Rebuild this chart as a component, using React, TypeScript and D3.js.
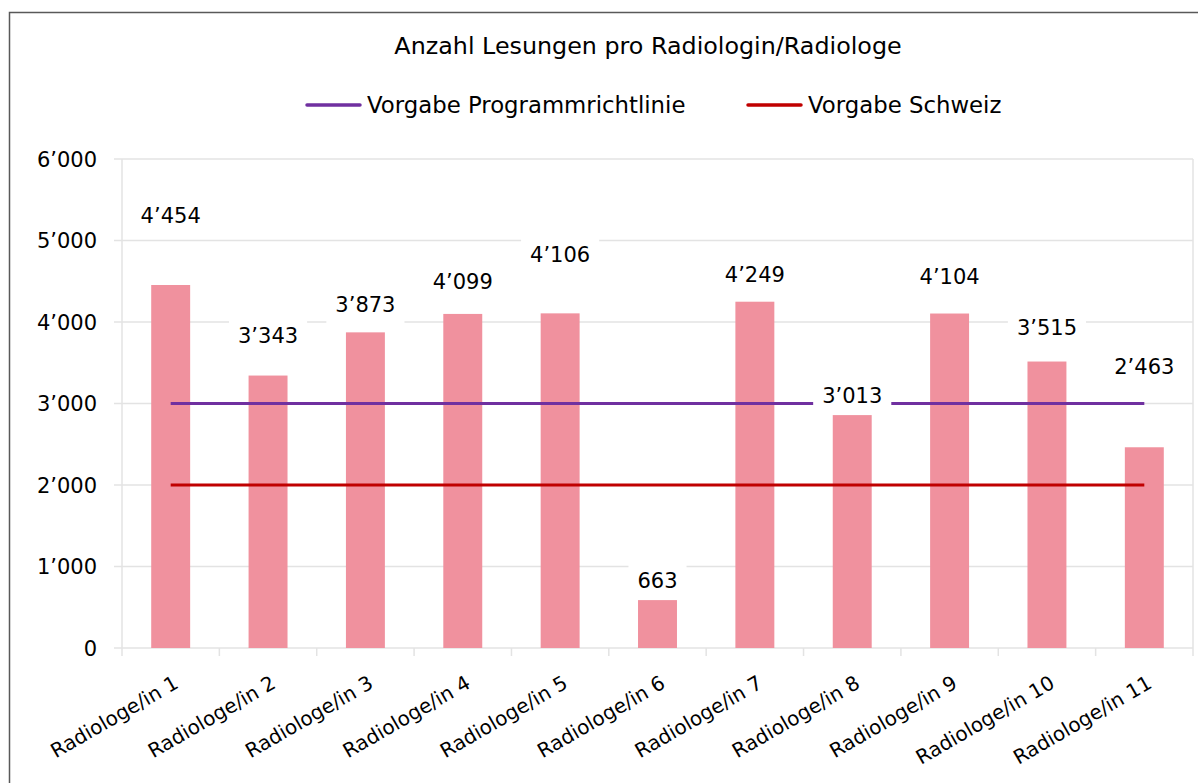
import * as d3 from "d3";
import { useEffect, useRef } from "react";

// Daten
const categories = [
  "Radiologe/in 1", "Radiologe/in 2", "Radiologe/in 3", "Radiologe/in 4",
  "Radiologe/in 5", "Radiologe/in 6", "Radiologe/in 7", "Radiologe/in 8",
  "Radiologe/in 9", "Radiologe/in 10", "Radiologe/in 11",
];
// Balkenhöhen
const readings = [4454, 3343, 3873, 4099, 4106, 600, 4249, 2870, 4104, 3515, 2463];
// Beschriftungen der Balken
const labelTexts = ["4’454", "3’343", "3’873", "4’099", "4’106", "663", "4’249", "3’013", "4’104", "3’515", "2’463"];
const programTarget = [3000, 3000, 3000, 3000, 3000, 3000, 3000, 3000, 3000, 3000, 3000];
const swissTarget = [2000, 2000, 2000, 2000, 2000, 2000, 2000, 2000, 2000, 2000, 2000];
const yTicks = [0, 1000, 2000, 3000, 4000, 5000, 6000];
const seriesNames = ["Vorgabe Programmrichtlinie", "Vorgabe Schweiz"];
const title = "Anzahl Lesungen pro Radiologin/Radiologe";

// Layout
const W = 1198;
const H = 783;
const FONT = "'DejaVu Sans', sans-serif";
const margin = { left: 122, right: 1193, top: 159, bottom: 648 };
// wie weit die Beschriftung über dem Balken sitzt (px)
const labelLift = [70, 40, 28, 32, 59, 19, 27, 19, 37, 34, 81];

const App = () => {
  const ref = useRef<SVGSVGElement>(null);

  useEffect(() => {
    document.body.style.margin = "0";
    const svg = d3.select(ref.current);
    svg.selectAll("*").remove();

    const x = d3.scaleBand<string>()
      .domain(categories)
      .range([margin.left, margin.right])
      .paddingInner(0.6)
      .paddingOuter(0.3);
    const step = x.step();
    const y = d3.scaleLinear().domain([0, 6000]).range([margin.bottom, margin.top]);
    const fmt = (v: number) => d3.format(",")(v).replace(/,/g, "’");
    const cx = (c: string) => (x(c) as number) + x.bandwidth() / 2;

    // Rahmen
    svg.append("rect")
      .attr("x", 9.5).attr("y", 12.5)
      .attr("width", W).attr("height", H)
      .attr("fill", "white")
      .attr("stroke", "#595959").attr("stroke-width", 1.5);

    // Gitter
    const grid = svg.append("g");
    yTicks.forEach((t) => {
      grid.append("line")
        .attr("x1", margin.left - 8).attr("x2", margin.right)
        .attr("y1", y(t)).attr("y2", y(t))
        .attr("stroke", "#e3e3e3").attr("stroke-width", 1.5);
    });
    [margin.left, margin.right].forEach((xx) => {
      grid.append("line")
        .attr("x1", xx).attr("x2", xx)
        .attr("y1", margin.top).attr("y2", margin.bottom)
        .attr("stroke", "#e3e3e3").attr("stroke-width", 1.5);
    });
    d3.range(categories.length + 1).forEach((i) => {
      const xx = margin.left + i * step;
      grid.append("line")
        .attr("x1", xx).attr("x2", xx)
        .attr("y1", margin.bottom).attr("y2", margin.bottom + 8)
        .attr("stroke", "#e3e3e3").attr("stroke-width", 1.5);
    });

    // y-Achse
    svg.append("g")
      .selectAll("text")
      .data(yTicks)
      .join("text")
      .attr("x", 97)
      .attr("y", (d) => y(d))
      .attr("dy", "0.36em")
      .attr("text-anchor", "end")
      .attr("font-family", FONT)
      .attr("font-size", 21)
      .attr("fill", "#000")
      .text((d) => fmt(d));

    // x-Achse
    svg.append("g")
      .selectAll("text")
      .data(categories)
      .join("text")
      .attr("text-anchor", "end")
      .attr("transform", (d) => `translate(${cx(d) + 9}, 687) rotate(-30)`)
      .attr("font-family", FONT)
      .attr("font-size", 20)
      .attr("fill", "#000")
      .text((d) => d);

    // Balken
    svg.append("g")
      .selectAll("rect")
      .data(readings)
      .join("rect")
      .attr("x", (_, i) => x(categories[i]) as number)
      .attr("y", (d) => y(d))
      .attr("width", x.bandwidth())
      .attr("height", (d) => y(0) - y(d))
      .attr("fill", "#f0919e");

    // Linien
    const line = d3.line<number>()
      .x((_, i) => cx(categories[i]))
      .y((d) => y(d));
    svg.append("path")
      .attr("d", line(programTarget))
      .attr("fill", "none").attr("stroke", "#7030a0").attr("stroke-width", 3);
    svg.append("path")
      .attr("d", line(swissTarget))
      .attr("fill", "none").attr("stroke", "#c00000").attr("stroke-width", 3);

    // Beschriftungen mit weissem Hintergrund
    const labels = svg.append("g");
    readings.forEach((v, i) => {
      const g = labels.append("g")
        .attr("transform", `translate(${cx(categories[i])}, ${y(v) - labelLift[i]})`);
      const box = g.append("rect").attr("fill", "white");
      const t = g.append("text")
        .attr("text-anchor", "middle")
        .attr("dy", "0.36em")
        .attr("font-family", FONT)
        .attr("font-size", 21)
        .attr("fill", "#000")
        .text(labelTexts[i]);
      const w = (t.node() as SVGTextElement).getComputedTextLength() + 18;
      box.attr("x", -w / 2).attr("y", -20).attr("width", w).attr("height", 40);
    });

    // Titel
    svg.append("text")
      .attr("x", 648).attr("y", 45)
      .attr("dy", "0.36em")
      .attr("text-anchor", "middle")
      .attr("font-family", FONT)
      .attr("font-size", 23.8)
      .attr("fill", "#000")
      .text(title);

    // Legende
    const legendItems = [
      { name: seriesNames[0], color: "#7030a0", x: 307 },
      { name: seriesNames[1], color: "#c00000", x: 748 },
    ];
    legendItems.forEach((it) => {
      svg.append("line")
        .attr("x1", it.x).attr("x2", it.x + 53)
        .attr("y1", 105).attr("y2", 105)
        .attr("stroke", it.color).attr("stroke-width", 3.5)
        .attr("stroke-linecap", "round");
      svg.append("text")
        .attr("x", it.x + 60).attr("y", 105)
        .attr("dy", "0.36em")
        .attr("font-family", FONT)
        .attr("font-size", 22.8)
        .attr("fill", "#000")
        .text(it.name);
    });
  }, []);

  return <svg ref={ref} width={W} height={H} style={{ display: "block" }} />;
};

export default App;
